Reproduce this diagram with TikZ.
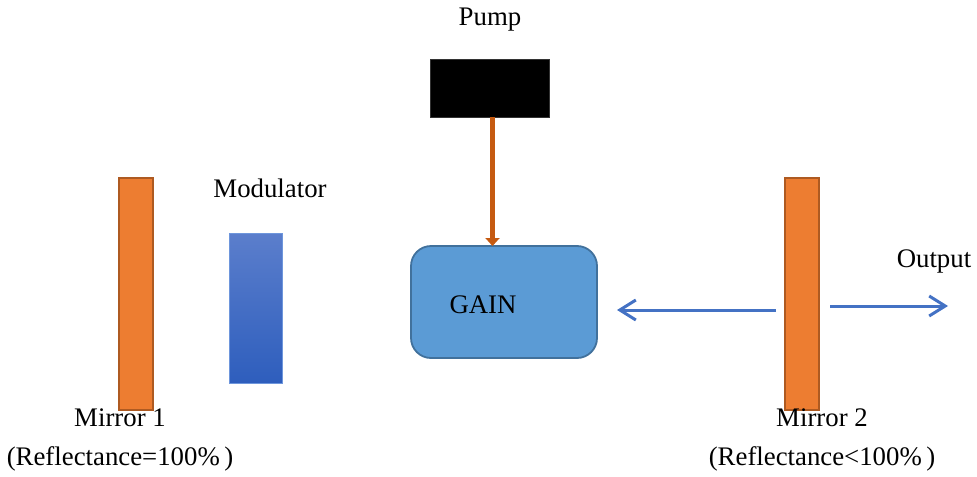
\documentclass[tikz,border=0pt]{standalone}
\usepackage{fontspec}
\setmainfont{Liberation Serif}
\usetikzlibrary{positioning,arrows.meta}

\definecolor{mirrorfill}{RGB}{237,125,49}
\definecolor{mirrordraw}{RGB}{174,90,33}
\definecolor{gainfill}{RGB}{91,155,213}
\definecolor{gaindraw}{RGB}{65,113,156}
\definecolor{beamblue}{RGB}{68,114,196}
\definecolor{pumporange}{RGB}{197,90,17}

\begin{document}
\begin{tikzpicture}[x=0.5pt,y=-0.5pt,every node/.style={outer sep=0pt},
 txt/.style={font=\fontsize{13.4}{16}\selectfont,inner sep=0pt},
 mirror/.style={draw=mirrordraw,fill=mirrorfill,line width=0.8pt,minimum width=17pt,minimum height=116pt},
 modbox/.style={top color={rgb,255:red,91;green,126;blue,204},bottom color={rgb,255:red,46;green,94;blue,189},draw={rgb,255:red,110;green,150;blue,220},line width=0.3pt,minimum width=26.5pt,minimum height=75pt},
 pumpbox/.style={fill=black,draw=black!80,minimum width=59.5pt,minimum height=29pt},
 gainbox/.style={draw=gaindraw,fill=gainfill,line width=0.9pt,rounded corners=10pt,minimum width=93pt,minimum height=56pt},
 pumparrow/.style={-{Triangle[width=7pt,length=4pt]},pumporange,line width=2.5pt},
 beam/.style={-{Straight Barb[length=8pt,width=10pt]},beamblue,line width=1.5pt}]
\useasboundingbox (0,0) rectangle (977,476);

% optical elements
\node[mirror] (m1) at (136,294) {};
\node[modbox] (mod) at (255.5,308) {};
\node[pumpbox] (pump) at (489.5,88) {};
\node[gainbox,label={[txt,xshift=-10.5pt,yshift=-1.5pt]center:GAIN}] (gain) at (504,302) {};
\node[mirror] (m2) at (802,294) {};

% labels
\node[txt] (pumplbl) at (490,20) {Pump};
\node[txt] (modlbl) at (270,188) {Modulator};
\node[txt] (m1lbl) at (120,418) {Mirror 1};
\node[txt,below=10pt of m1lbl] (r1lbl) {(Reflectance=100\%\,)};
\node[txt] (m2lbl) at (822,418) {Mirror 2};
\node[txt,below=10pt of m2lbl] (r2lbl) {(Reflectance<100\%\,)};
\node[txt] (outlbl) at (934,261) {Output};

% beams
\coordinate (pin) at ([xshift=1.5pt]pump.south);
\draw[pumparrow] (pin) -- (pin |- gain.north);
\coordinate (b1) at ([shift={(-4.5pt,-8pt)}]m2.west);
\coordinate (b2) at ([xshift=10pt]gain.east);
\draw[beam] (b1) -- (b1 -| b2);
\coordinate (b3) at ([shift={(5.5pt,-6pt)}]m2.east);
\coordinate (b4) at (948,306);
\draw[beam] (b3) -- (b4);

\end{tikzpicture}
\end{document}
